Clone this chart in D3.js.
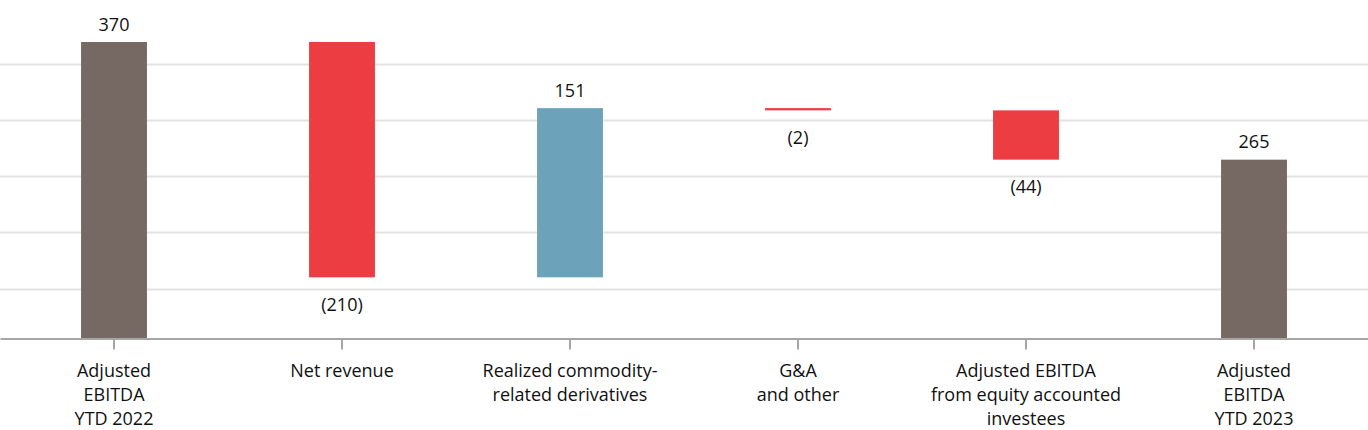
<!DOCTYPE html>
<html><head><meta charset="utf-8">
<script src="https://cdn.jsdelivr.net/npm/d3@7"></script>
<style>
html,body{margin:0;padding:0;background:#fff;}
text{font-family:"Open Sans",sans-serif;fill:#111;}
</style></head>
<body><svg id="c" width="1368" height="430"></svg>
<script>
const categories = [
  ["Adjusted","EBITDA","YTD 2022"],
  ["Net revenue"],
  ["Realized commodity-","related derivatives"],
  ["G&A","and other"],
  ["Adjusted EBITDA","from equity accounted","investees"],
  ["Adjusted","EBITDA","YTD 2023"]
];
const values = [370, -210, 151, -2, -44, 265];
const kinds = ["total","delta","delta","delta","delta","total"];
const valueLabels = ["370","(210)","151","(2)","(44)","265"];
const gridTicks = [150, 200, 250, 300, 350];

const W = 1368, H = 430;
const svg = d3.select("#c");
const colors = {total:"#766964", up:"#6CA3BB", down:"#EC3E42"};

const x = d3.scaleBand().domain(d3.range(categories.length)).range([0, W]).paddingInner(0.711).paddingOuter(0.3555);
const y = d3.scaleLinear().domain([105.4, 370]).range([338.5, 42]);

let run = 0;
const bars = values.map((v,i)=>{
  let y0, y1;
  if (kinds[i]==="total"){ y0 = y.domain()[0]; y1 = v; run = v; }
  else { y0 = run; y1 = run + v; run = y1; }
  return {i, v, lo: Math.min(y0,y1), hi: Math.max(y0,y1), kind: kinds[i]};
});

svg.append("g").selectAll("line").data(gridTicks).join("line")
  .attr("x1",0).attr("x2",W)
  .attr("y1",d=>Math.round(y(d))+0.5).attr("y2",d=>Math.round(y(d))+0.5)
  .attr("stroke","#e3e3e3").attr("stroke-width",2);

svg.append("g").selectAll("rect").data(bars).join("rect")
  .attr("x",d=>x(d.i)).attr("width",x.bandwidth())
  .attr("y",d=>y(d.hi)).attr("height",d=>Math.max(2,y(d.lo)-y(d.hi)))
  .attr("fill",d=>d.kind==="total"?colors.total:(d.v>=0?colors.up:colors.down));

svg.append("g").selectAll("text").data(bars).join("text")
  .attr("x",d=>x(d.i)+x.bandwidth()/2)
  .attr("y",d=> d.v>=0 ? y(d.hi)-11.5 : y(d.lo)+33.5)
  .attr("text-anchor","middle").attr("font-size",18)
  .text(d=>valueLabels[d.i]);

const ax = svg.append("g").attr("transform","translate(0,338.5)")
  .call(d3.axisBottom(x).tickSize(11).tickSizeOuter(0).tickFormat(""));
ax.select(".domain").attr("stroke","#a6a6a6").attr("stroke-width",2);
ax.selectAll(".tick line").attr("stroke","#a6a6a6").attr("stroke-width",2);

const lab = svg.append("g").selectAll("text").data(categories).join("text")
  .attr("text-anchor","middle").attr("font-size",18)
  .attr("transform",(d,i)=>`translate(${x(i)+x.bandwidth()/2},377)`);
lab.selectAll("tspan").data(d=>d).join("tspan")
  .attr("x",0).attr("y",(d,j)=>j*24).text(d=>d);
</script></body></html>
